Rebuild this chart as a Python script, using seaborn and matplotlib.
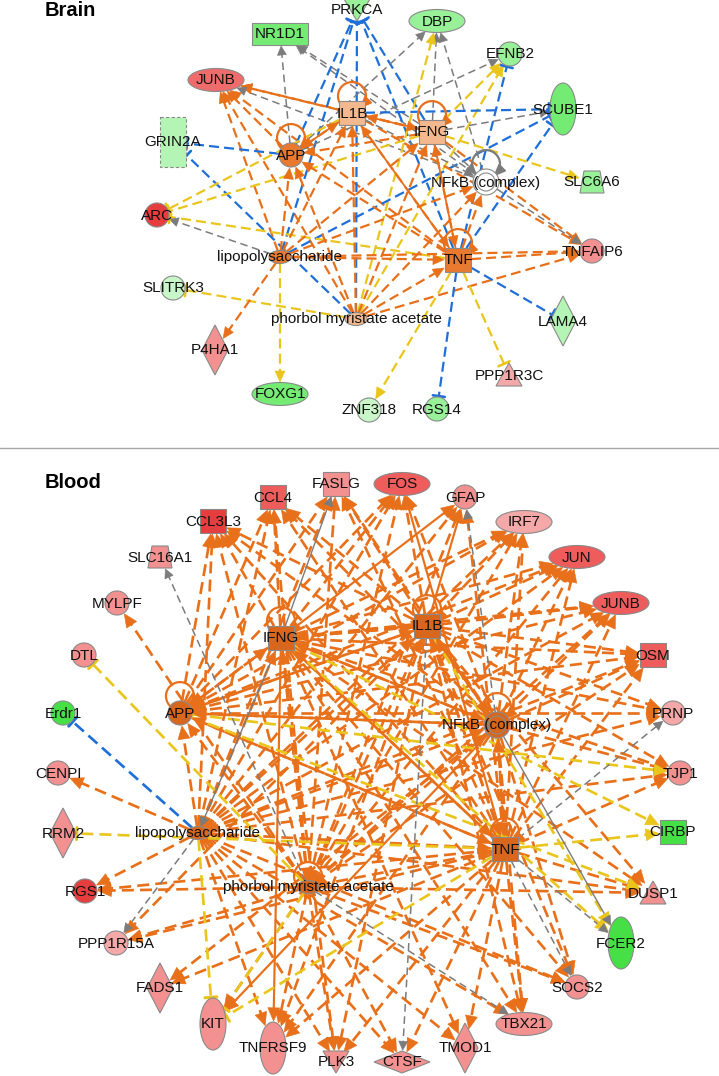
"""IPA-style upstream regulator networks for brain and blood."""

import matplotlib
matplotlib.use("Agg")
import matplotlib.pyplot as plt
import numpy as np
import pandas as pd
import seaborn as sns
from matplotlib.patches import Circle, Ellipse, Polygon, Rectangle

sns.set_theme(style="white")
plt.rcParams["font.family"] = ["Liberation Sans", "DejaVu Sans"]

# ---------------------------------------------------------------- data
LABELS = {"LPS": "lipopolysaccharide", "PMA": "phorbol myristate acetate", "NFkB": "NFkB (complex)"}

BRAIN_NODES = ["PRKCA", "NR1D1", "DBP", "EFNB2", "JUNB", "IL1B", "IFNG", "SCUBE1", "GRIN2A", "APP",
               "NFkB", "SLC6A6", "ARC", "LPS", "TNF", "TNFAIP6", "SLITRK3", "PMA", "LAMA4", "P4HA1",
               "PPP1R3C", "FOXG1", "ZNF318", "RGS14"]
BRAIN_TYPES = ["kinase", "nuclear", "tf", "other", "tf", "cytokine", "cytokine", "receptor", "channel", "other",
               "complex", "transporter", "other", "chemical", "cytokine", "other", "other", "chemical", "enzyme", "enzyme",
               "phosphatase", "tf", "other", "other"]
BRAIN_REGULATION = ["dn1", "dn2", "dn1", "dn1", "up2b", "pred1", "pred1", "dn2", "dn0", "pred2",
                    "none", "dn1", "up3", "pred2", "pred2", "up1", "dn00", "pred1", "dn0", "up1",
                    "up0", "dn2", "dn00", "dn1"]

BLOOD_NODES = ["FASLG", "CCL4", "FOS", "GFAP", "CCL3L3", "IRF7", "SLC16A1", "JUN", "MYLPF", "JUNB",
               "IFNG", "IL1B", "DTL", "OSM", "Erdr1", "APP", "NFkB", "PRNP", "CENPI", "TJP1",
               "RRM2", "LPS", "CIRBP", "TNF", "PMA", "DUSP1", "RGS1", "FCER2", "PPP1R15A", "FADS1",
               "SOCS2", "KIT", "TBX21", "TNFRSF9", "PLK3", "TMOD1", "CTSF"]
BLOOD_TYPES = ["cytokine", "cytokine", "tf", "other", "cytokine", "tf", "transporter", "tf", "other", "tf",
               "cytokine", "cytokine", "other", "cytokine", "other", "other", "complex", "other", "other", "other",
               "enzyme", "chemical", "translation", "cytokine", "chemical", "phosphatase", "other", "receptor", "other", "enzyme",
               "other", "receptor", "tf", "receptor", "kinase", "enzyme", "peptidase"]
BLOOD_REGULATION = ["up1", "up2", "up2", "up1", "up3", "up0", "up1", "up2", "up1", "up2",
                    "pred3", "pred3", "up1", "up2", "dn3", "pred3", "pred3", "up0", "up1", "up1",
                    "up1", "pred3", "dn3", "pred3", "pred3", "up1", "up3", "dn3", "up0", "up1",
                    "up1", "up1", "up1", "up1", "up1", "up1", "up1"]

# edge codes: a = activation, s = direct activation, ya/yt = inconsistent, bt = inhibition, g/gs = no prediction
BRAIN_EDGES = [
    ("APP", "NR1D1", "g"), ("IFNG", "NR1D1", "g"), ("NFkB", "NR1D1", "g"),
    ("APP", "JUNB", "a"), ("IL1B", "JUNB", "a"), ("IFNG", "JUNB", "a"), ("TNF", "JUNB", "a"),
    ("LPS", "JUNB", "a"), ("PMA", "JUNB", "a"), ("NFkB", "JUNB", "g"),
    ("APP", "GRIN2A", "bt"), ("PMA", "GRIN2A", "bt"),
    ("LPS", "PRKCA", "bt"), ("PMA", "PRKCA", "bt"), ("APP", "PRKCA", "bt"), ("IFNG", "PRKCA", "bt"), ("TNF", "PRKCA", "bt"),
    ("APP", "DBP", "g"), ("IFNG", "DBP", "g"), ("NFkB", "DBP", "g"), ("PMA", "DBP", "ya"),
    ("APP", "EFNB2", "g"), ("IFNG", "EFNB2", "ya"), ("PMA", "EFNB2", "ya"), ("TNF", "EFNB2", "bt"),
    ("IL1B", "SCUBE1", "bt"), ("IFNG", "SCUBE1", "g"), ("LPS", "SCUBE1", "bt"), ("TNF", "SCUBE1", "bt"),
    ("IFNG", "SLC6A6", "ya"),
    ("LPS", "ARC", "g"), ("IL1B", "ARC", "yt"), ("IFNG", "ARC", "yt"), ("TNF", "ARC", "yt"),
    ("IL1B", "TNFAIP6", "a"), ("IFNG", "TNFAIP6", "a"), ("TNF", "TNFAIP6", "a"), ("LPS", "TNFAIP6", "a"),
    ("PMA", "TNFAIP6", "a"), ("NFkB", "TNFAIP6", "g"),
    ("PMA", "SLITRK3", "yt"), ("TNF", "LAMA4", "bt"), ("LPS", "P4HA1", "a"), ("TNF", "PPP1R3C", "yt"),
    ("LPS", "FOXG1", "ya"), ("TNF", "ZNF318", "ya"), ("TNF", "RGS14", "bt"),
    ("LPS", "APP", "a"), ("LPS", "IL1B", "a"), ("LPS", "IFNG", "a"), ("LPS", "TNF", "a"), ("LPS", "NFkB", "a"),
    ("PMA", "APP", "a"), ("PMA", "IL1B", "a"), ("PMA", "IFNG", "a"), ("PMA", "TNF", "a"), ("PMA", "NFkB", "a"),
    ("APP", "IL1B", "s"), ("IL1B", "IFNG", "s"), ("IFNG", "IL1B", "a"), ("IL1B", "TNF", "a"), ("TNF", "IL1B", "s"),
    ("IFNG", "TNF", "a"), ("TNF", "IFNG", "s"), ("IL1B", "NFkB", "g"), ("IFNG", "NFkB", "g"), ("TNF", "NFkB", "a"),
    ("IL1B", "APP", "a"), ("TNF", "APP", "a"), ("IFNG", "APP", "a"),
]
BRAIN_LOOPS = ["APP", "IL1B", "IFNG", "TNF", "NFkB"]

# blood: target <- regulators with dashed activation
BLOOD_ACTIVATED = [
    ("CCL3L3", "LPS PMA TNF IFNG IL1B NFkB APP"),
    ("CCL4", "LPS PMA TNF IL1B NFkB APP IFNG"),
    ("FASLG", "LPS PMA TNF NFkB IL1B APP"),
    ("FOS", "LPS PMA IFNG IL1B NFkB APP"),
    ("GFAP", "LPS TNF PMA"),
    ("IRF7", "LPS PMA TNF IFNG IL1B NFkB APP"),
    ("JUN", "LPS PMA TNF IFNG IL1B NFkB APP"),
    ("JUNB", "LPS PMA TNF IFNG IL1B NFkB APP"),
    ("OSM", "LPS PMA TNF IFNG IL1B NFkB APP"),
    ("PRNP", "APP IFNG IL1B LPS"),
    ("TJP1", "IFNG IL1B TNF LPS NFkB"),
    ("DUSP1", "LPS PMA TNF IL1B IFNG"),
    ("SOCS2", "LPS IFNG IL1B PMA NFkB"),
    ("TBX21", "TNF IFNG IL1B LPS NFkB"),
    ("TMOD1", "LPS TNF IFNG"),
    ("CTSF", "PMA TNF LPS"),
    ("PLK3", "LPS PMA TNF IFNG IL1B"),
    ("TNFRSF9", "LPS PMA TNF IL1B NFkB"),
    ("KIT", "PMA"),
    ("FADS1", "TNF NFkB"),
    ("PPP1R15A", "PMA TNF IL1B"),
    ("RGS1", "LPS PMA TNF"),
    ("CENPI", "LPS"),
    ("MYLPF", "PMA"),
    ("APP", "LPS PMA TNF IFNG IL1B NFkB"),
    ("IFNG", "LPS PMA TNF IL1B NFkB APP"),
    ("IL1B", "LPS PMA TNF IFNG NFkB APP"),
    ("NFkB", "LPS PMA TNF IFNG IL1B APP"),
    ("TNF", "LPS PMA IFNG IL1B NFkB APP"),
]
BLOOD_OTHER_EDGES = [
    ("IL1B", "GFAP", "s"), ("NFkB", "KIT", "s"), ("IFNG", "TNFRSF9", "s"), ("TNF", "FOS", "s"), ("IFNG", "GFAP", "s"),
    ("PMA", "DTL", "yt"), ("LPS", "Erdr1", "bt"), ("TNF", "RRM2", "yt"), ("LPS", "KIT", "yt"),
    ("PMA", "KIT", "yt"), ("TNF", "KIT", "yt"),
    ("APP", "TJP1", "ya"), ("IFNG", "CIRBP", "ya"), ("IFNG", "FCER2", "ya"), ("APP", "DUSP1", "ya"),
    ("IL1B", "FCER2", "ya"), ("TNF", "CIRBP", "ya"),
    ("PMA", "SLC16A1", "g"), ("IFNG", "LPS", "gs"), ("IFNG", "FASLG", "gs"), ("NFkB", "GFAP", "g"),
    ("IL1B", "CTSF", "g"), ("NFkB", "FCER2", "gs"), ("TNF", "FCER2", "g"), ("TNF", "PRNP", "g"),
    ("TNF", "SOCS2", "g"), ("PMA", "TBX21", "g"), ("LPS", "PPP1R15A", "g"),
]
BLOOD_LOOPS = ["APP", "IFNG", "IL1B", "NFkB", "TNF", "PMA"]

# ---------------------------------------------------------------- layout (pixel grid)
BRAIN_LAYOUT = {
    "PRKCA": (357, 10), "NR1D1": (280, 34), "DBP": (437, 21), "EFNB2": (510, 54), "JUNB": (216, 80),
    "IL1B": (352, 113), "IFNG": (432, 132), "SCUBE1": (563, 109), "GRIN2A": (173, 142), "APP": (291, 155),
    "NFkB": (486, 182), "SLC6A6": (592, 182), "ARC": (157, 215), "LPS": (280, 257), "TNF": (458, 260),
    "TNFAIP6": (592, 251), "SLITRK3": (173, 288), "PMA": (356, 319), "LAMA4": (563, 321), "P4HA1": (215, 350),
    "PPP1R3C": (509, 375), "FOXG1": (280, 394), "ZNF318": (369, 410), "RGS14": (437, 409),
}
BLOOD_LAYOUT = {
    "FASLG": (336, 484), "CCL4": (273, 497), "FOS": (402, 484), "GFAP": (465, 497), "CCL3L3": (213, 521),
    "IRF7": (524, 522), "SLC16A1": (160, 557), "JUN": (577, 557), "MYLPF": (117, 603), "JUNB": (621, 603),
    "IFNG": (281, 638), "IL1B": (427, 626), "DTL": (84, 655), "OSM": (653, 655), "Erdr1": (63, 713),
    "APP": (180, 713), "NFkB": (497, 725), "PRNP": (673, 713), "CENPI": (58, 773), "TJP1": (680, 773),
    "RRM2": (63, 833), "LPS": (198, 833), "CIRBP": (673, 832), "TNF": (505, 849), "PMA": (308, 887),
    "DUSP1": (653, 893), "RGS1": (85, 891), "FCER2": (621, 943), "PPP1R15A": (116, 943), "FADS1": (160, 988),
    "SOCS2": (577, 987), "KIT": (213, 1024), "TBX21": (524, 1024), "TNFRSF9": (273, 1048), "PLK3": (336, 1062),
    "TMOD1": (465, 1048), "CTSF": (402, 1062),
}

FILL = {
    "up3": "#e63e3e", "up2": "#ee5c5c", "up2b": "#f06c6c", "up1": "#f39090", "up0": "#f5a8a8",
    "dn3": "#46e046", "dn2": "#74ec74", "dn1": "#98f098", "dn0": "#b4f4b4", "dn00": "#c8f6c8",
    "pred3": "#d9661d", "pred2": "#e8792e", "pred1": "#f4b88e", "none": "#ffffff",
}
SIZE = {  # half width, half height, outline used for edge clipping
    "cytokine": (13, 12, "rect"), "nuclear": (28, 11, "rect"), "tf": (28, 11, "ellipse"),
    "receptor": (13, 26, "ellipse"), "enzyme": (13, 25, "diamond"), "peptidase": (28, 11, "diamond"),
    "kinase": (13, 11, "ellipse"), "phosphatase": (13, 11, "ellipse"), "transporter": (12, 11, "rect"),
    "channel": (13, 25, "rect"), "translation": (13, 12, "rect"), "chemical": (11, 6, "ellipse"),
    "complex": (13, 13, "ellipse"), "other": (12, 12, "ellipse"),
}
ORANGE, YELLOW, BLUE, GREY = "#e8701a", "#eac51c", "#1f6fd8", "#7c7c7c"
DASH = (0, (4.5, 2.3))
EDGE_STYLE = {
    "a": (ORANGE, DASH, 1.6, "arrow"), "s": (ORANGE, "-", 1.3, "arrow"),
    "ya": (YELLOW, DASH, 1.6, "arrow"), "yt": (YELLOW, DASH, 1.6, "tee"),
    "bt": (BLUE, DASH, 1.6, "tee"), "g": (GREY, (0, (5, 3)), 1.1, "arrow"), "gs": (GREY, "-", 1.0, "arrow"),
}
OUTLINE = "#8a8a8a"


def reach(kind, u):
    a, b, outline = SIZE[kind]
    ux, uy = abs(u[0]) + 1e-9, abs(u[1]) + 1e-9
    if outline == "rect":
        return min(a / ux, b / uy)
    if outline == "diamond":
        return 1.0 / (ux / a + uy / b)
    return 1.0 / np.hypot(ux / a, uy / b)


def draw_edge(ax, p, q, k1, k2, code, scale):
    color, ls, lw, head = EDGE_STYLE[code]
    if color != GREY:
        lw *= scale
    p, q = np.asarray(p, float), np.asarray(q, float)
    u = (q - p) / np.hypot(*(q - p))
    n = np.array([-u[1], u[0]])
    start = p + u * reach(k1, u)
    end = q - u * (reach(k2, u) + 1.0)
    if head == "arrow":
        hl, hw = (11 * scale, 5 * scale) if color != GREY else (9, 4.5)
        base = end - u * hl
        stop = base + u * 2
        ax.plot([start[0], stop[0]], [start[1], stop[1]], color=color, lw=lw, ls=ls,
                solid_capstyle="butt", zorder=1)
        ax.add_patch(Polygon([end, base + n * hw, base - n * hw], closed=True, fc=color, ec=color,
                             lw=0.4, zorder=2))
    else:
        ax.plot([start[0], end[0]], [start[1], end[1]], color=color, lw=lw, ls=ls,
                solid_capstyle="butt", zorder=1)
        ax.plot([end[0] + n[0] * 6, end[0] - n[0] * 6], [end[1] + n[1] * 6, end[1] - n[1] * 6],
                color=color, lw=lw + 0.3, zorder=2)


def draw_loop(ax, x, y, kind, color, r=14):
    _, b, _ = SIZE[kind]
    cx, cy = x, y - b - r * 0.35
    t = np.radians(np.linspace(125, 405, 60))
    ax.plot(cx + r * np.cos(t), cy + r * np.sin(t), color=color, lw=1.6, zorder=1)
    te = np.radians(405)
    tip = np.array([cx + r * np.cos(te), cy + r * np.sin(te)])
    u = np.array([-np.sin(te), np.cos(te)])
    n = np.array([-u[1], u[0]])
    base = tip - u * 9
    ax.add_patch(Polygon([tip + u * 2, base + n * 4.5, base - n * 4.5], closed=True, fc=color, ec=color, zorder=2))


def draw_shape(ax, x, y, kind, fill):
    kw = dict(fc=fill, ec=OUTLINE, lw=0.8, zorder=3)
    if kind in ("cytokine", "translation"):
        ax.add_patch(Rectangle((x - 13, y - 12), 26, 24, **kw))
    elif kind == "nuclear":
        ax.add_patch(Rectangle((x - 28, y - 11), 56, 22, **kw))
    elif kind == "channel":
        ax.add_patch(Rectangle((x - 13, y - 25), 26, 50, ls=(0, (3, 2)), **kw))
    elif kind == "tf":
        ax.add_patch(Ellipse((x, y), 56, 23, **kw))
    elif kind == "receptor":
        ax.add_patch(Ellipse((x, y), 26, 52, **kw))
    elif kind == "chemical":
        ax.add_patch(Ellipse((x, y), 22, 13, **kw))
    elif kind == "enzyme":
        ax.add_patch(Polygon([(x, y - 25), (x + 13, y), (x, y + 25), (x - 13, y)], **kw))
    elif kind == "peptidase":
        ax.add_patch(Polygon([(x - 28, y), (x, y - 11), (x + 28, y), (x, y + 11)], **kw))
    elif kind == "kinase":
        ax.add_patch(Polygon([(x - 13, y - 11), (x + 13, y - 11), (x, y + 11)], **kw))
    elif kind == "phosphatase":
        ax.add_patch(Polygon([(x, y - 12), (x + 13, y + 11), (x - 13, y + 11)], **kw))
    elif kind == "transporter":
        ax.add_patch(Polygon([(x - 8, y - 11), (x + 8, y - 11), (x + 12, y + 11), (x - 12, y + 11)], **kw))
    elif kind == "complex":
        ax.add_patch(Circle((x, y), 13, **kw))
        ax.add_patch(Circle((x, y), 9, fc=fill, ec=OUTLINE, lw=0.8, zorder=3))


def draw_panel(ax, nodes, kinds, regulation, layout, edges, loops, scale):
    kind = dict(zip(nodes, kinds))
    fill = {n: FILL[r] for n, r in zip(nodes, regulation)}
    for src, dst, code in edges:
        draw_edge(ax, layout[src], layout[dst], kind[src], kind[dst], code, scale)
    for n in loops:
        color = GREY if fill[n] == "#ffffff" else ORANGE
        draw_loop(ax, *layout[n], kind[n], color)
    round_nodes = [n for n in nodes if kind[n] == "other"]
    df = pd.DataFrame({"x": [layout[n][0] for n in round_nodes],
                       "y": [layout[n][1] for n in round_nodes], "node": round_nodes})
    sns.scatterplot(data=df, x="x", y="y", hue="node", palette={n: fill[n] for n in round_nodes},
                    s=300, edgecolor=OUTLINE, linewidth=0.8, legend=False, ax=ax, zorder=3)
    for n in nodes:
        if kind[n] != "other":
            draw_shape(ax, *layout[n], kind[n], fill[n])
        x, y = layout[n]
        ax.text(x, y + 0.5, LABELS.get(n, n), ha="center", va="center", fontsize=11,
                color="#111111", zorder=4)


fig = plt.figure(figsize=(7.19, 10.76), dpi=100)
ax = fig.add_axes([0, 0, 1, 1])
ax.set_xlim(0, 719)
ax.set_ylim(1076, 0)
ax.axis("off")

blood_edges = [(s, t, "a") for t, srcs in BLOOD_ACTIVATED for s in srcs.split()] + BLOOD_OTHER_EDGES

draw_panel(ax, BRAIN_NODES, BRAIN_TYPES, BRAIN_REGULATION, BRAIN_LAYOUT, BRAIN_EDGES, BRAIN_LOOPS, 1.0)
draw_panel(ax, BLOOD_NODES, BLOOD_TYPES, BLOOD_REGULATION, BLOOD_LAYOUT, blood_edges, BLOOD_LOOPS, 1.2)

ax.plot([0, 719], [448, 448], color="#a6a6a6", lw=1.0, zorder=0)
ax.text(45, 10, "Brain", fontsize=14.5, fontweight="bold", ha="left", va="center", color="black")
ax.text(45, 483, "Blood", fontsize=14.5, fontweight="bold", ha="left", va="center", color="black")

fig.savefig("out.png", dpi=100)
